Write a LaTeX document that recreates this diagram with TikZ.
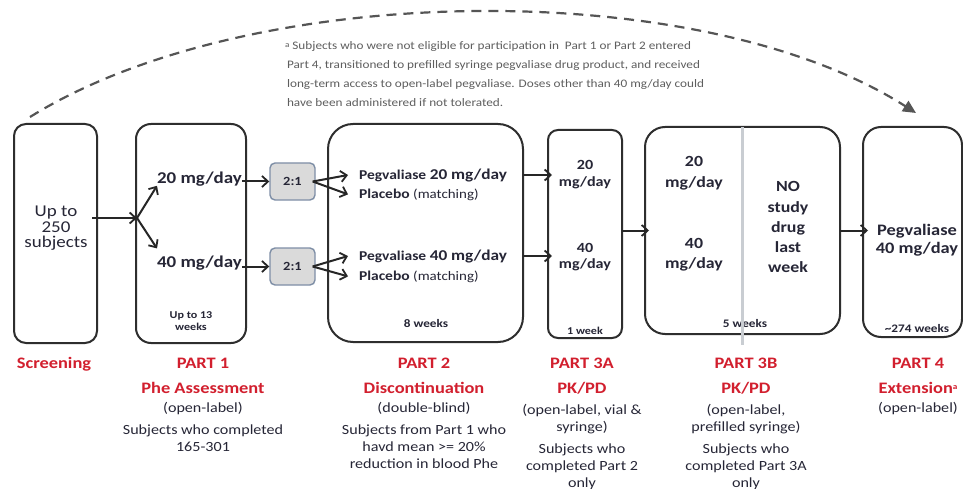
\documentclass[tikz,border=0pt]{standalone}
\usepackage{fontspec}
\setmainfont{Carlito}[FakeStretch=1.15]
\usetikzlibrary{arrows.meta}
\definecolor{ink}{HTML}{262636}
\definecolor{redc}{HTML}{D21F2E}
\definecolor{boxc}{HTML}{2E2E2E}
\definecolor{notec}{HTML}{5E5E5E}
\definecolor{ratiofill}{HTML}{DADADA}
\definecolor{ratioedge}{HTML}{7E8EA6}
\definecolor{divc}{HTML}{C9CDD2}
\definecolor{dashc}{HTML}{555555}
\newcommand\fsz[1]{\fontsize{#1}{#1}\selectfont}
\newcommand\supa{\raisebox{0.45ex}{\fontsize{8}{8}\selectfont a}}
\tikzset{
  lbl/.style={inner sep=0pt, outer sep=0pt, anchor=base, text=ink},
  lblw/.style={lbl, anchor=base west},
  dosew/.style={lblw, font=\fsz{16.5}\bfseries},
  dosea/.style={lbl, font=\fsz{14}\bfseries},
  doseb/.style={lbl, font=\fsz{15.5}\bfseries},
  dur/.style={lbl, font=\fsz{11.5}\bfseries},
  durs/.style={lbl, font=\fsz{10.5}\bfseries},
  armw/.style={lblw, font=\fsz{13.5}\bfseries},
  head/.style={lbl, text=redc, font=\fsz{16}\bfseries},
  desc/.style={lbl, font=\fsz{14}},
  note/.style={lblw, text=notec, font=\fsz{11.5}},
  stagebox/.style={draw=boxc, line width=2pt, inner sep=0pt, outer sep=0pt},
  ratiobox/.style={draw=ratioedge, fill=ratiofill, line width=1.4pt, rounded corners=5pt,
     minimum width=45pt, minimum height=37pt, inner sep=0pt, text=ink, font=\fsz{12.5}\bfseries},
  arr/.style={draw=black!85, line width=2pt, -{Straight Barb[length=6pt,width=11pt,line width=1.8pt]}},
  dashline/.style={draw=dashc, line width=2.2pt, dash pattern=on 10pt off 7pt,
     -{Triangle[length=13pt,width=12pt]}}
}
\begin{document}
\begin{tikzpicture}[x=1pt,y=-1pt]
\useasboundingbox[fill=white] (0,0) rectangle (963,489);

% footnote
\node[note] (n1) at (285,50) {\supa\ Subjects who were not eligible for participation in\ \ Part 1 or Part 2 entered};
\node[note] (n2) at (287,69) {Part 4, transitioned to prefilled syringe pegvaliase drug product, and received};
\node[note] (n3) at (287,88) {long-term access to open-label pegvaliase. Doses other than 40 mg/day could};
\node[note] (n4) at (287,107) {have been administered if not tolerated.};

% dashed arc
\coordinate (arcs) at (30,117);
\coordinate (arce) at (916,113);
\draw[dashline] (arcs) .. controls (250,-20) and (700,-25) .. (arce);

% stage boxes
\node[stagebox, rounded corners=12pt, minimum width=83pt, minimum height=219pt] (scr) at (55.5,233.5) {};
\node[stagebox, rounded corners=15pt, minimum width=110pt, minimum height=219pt] (p1) at (191,233.5) {};
\node[stagebox, rounded corners=25pt, minimum width=195pt, minimum height=218pt] (p2) at (425.5,233) {};
\node[stagebox, rounded corners=10pt, minimum width=74pt, minimum height=208pt] (p3a) at (585,234) {};
\node[stagebox, rounded corners=20pt, minimum width=195pt, minimum height=207pt] (p3b) at (742.5,230.5) {};
\node[stagebox, rounded corners=18pt, minimum width=99pt, minimum height=210pt] (p4) at (912.5,232) {};

% screening
\node[lbl, font=\fsz{16.5}] (s1) at (56,216) {Up to};
\node[lbl, font=\fsz{16.5}] (s2) at (56,232) {250};
\node[lbl, font=\fsz{16.5}] (s3) at (56,247) {subjects};

% part 1
\node[dosew] (d20) at (157,183) {20 mg/day};
\node[dosew] (d40) at (157,267) {40 mg/day};
\node[durs] (w1a) at (191,318) {Up to 13};
\node[durs] (w1b) at (191,330) {weeks};

% ratio boxes
\node[ratiobox] (r1) at (292.5,181.5) {2:1};
\node[ratiobox] (r2) at (292.5,266.5) {2:1};

% part 2
\node[armw] (peg20) at (359,179) {Pegvaliase {\fsz{15}20 mg/day}};
\node[armw] (plc1) at (359,198) {Placebo {\mdseries\fsz{13}(matching)}};
\node[armw] (peg40) at (359,260) {Pegvaliase {\fsz{15}40 mg/day}};
\node[armw] (plc2) at (359,280) {Placebo {\mdseries\fsz{13}(matching)}};
\node[dur] (w2) at (426,327) {8 weeks};

% part 3A
\node[dosea] (a20) at (585,170) {20};
\node[dosea] (a20m) at (585,186) {mg/day};
\node[dosea] (a40) at (585,252) {40};
\node[dosea] (a40m) at (585,268) {mg/day};
\node[durs] (w3a) at (585,334) {1 week};

% part 3B
\node[doseb] (b20) at (694,167) {20};
\node[doseb] (b20m) at (694,187) {mg/day};
\node[doseb] (b40) at (694,248) {40};
\node[doseb] (b40m) at (694,268) {mg/day};
\node[doseb] (nd1) at (788,192) {NO};
\node[doseb] (nd2) at (788,212) {study};
\node[doseb] (nd3) at (788,232) {drug};
\node[doseb] (nd4) at (788,252) {last};
\node[doseb] (nd5) at (788,272) {week};
\node[dur] (w3b) at (745,327) {5 weeks};
\draw[divc, line width=2.5pt] (p3b.north) -- ([yshift=-11pt]p3b.south);

% part 4
\node[lbl, font=\fsz{16}\bfseries] (e1) at (917,235) {Pegvaliase};
\node[lbl, font=\fsz{16}\bfseries] (e2) at (917,253) {40 mg/day};
\node[dur] (w4) at (917,332) {\char`\~274 weeks};

% connectors
\coordinate (br) at (137,218);
\draw[arr] ([xshift=-5pt]scr.east |- br) -- (br);
\draw[arr] (br) -- (d20.south west);
\draw[arr] (br) -- ([yshift=7pt]d40.north west);
\draw[arr] (d20.east |- r1.west) -- (r1.west);
\draw[arr] (d40.east |- r2.west) -- (r2.west);
\draw[arr] ([xshift=-3pt]r1.east) -- ([xshift=-11pt]peg20.west);
\draw[arr] ([xshift=-3pt]r1.east) -- ([xshift=-11pt]plc1.west);
\draw[arr] ([xshift=-3pt]r2.east) -- ([xshift=-11pt]peg40.west);
\draw[arr] ([xshift=-3pt]r2.east) -- ([xshift=-11pt]plc2.west);
\draw[arr] (p2.east |- peg20.west) -- ([xshift=4pt]p3a.west |- peg20.west);
\draw[arr] (p2.east |- peg40.west) -- ([xshift=4pt]p3a.west |- peg40.west);
\draw[arr] (p3a.east |- p3b.west) -- ([xshift=4pt]p3b.west);
\draw[arr] (p3b.east) -- ([xshift=5pt]p4.west |- p3b.east);

% bottom labels
\node[head] (h0) at (54,368) {Screening};
\node[head] (h1) at (203,368) {PART 1};
\node[head] (t1) at (203,393) {Phe Assessment};
\node[desc] (m1) at (203,412) {(open-label)};
\node[desc] (c1a) at (203,434) {Subjects who completed};
\node[desc] (c1b) at (203,451) {165-301};

\node[head] (h2) at (424,368) {PART 2};
\node[head] (t2) at (424,393) {Discontinuation};
\node[desc] (m2) at (424,412) {(double-blind)};
\node[desc] (c2a) at (424,434) {Subjects from Part 1 who};
\node[desc] (c2b) at (424,451) {havd mean >= 20\%};
\node[desc] (c2c) at (424,468) {reduction in blood Phe};

\node[head] (h3a) at (582,368) {PART 3A};
\node[head] (t3a) at (582,393) {PK/PD};
\node[desc] (m3a1) at (582,414) {(open-label, vial \&};
\node[desc] (m3a2) at (582,431) {syringe)};
\node[desc] (c3a1) at (582,453) {Subjects who};
\node[desc] (c3a2) at (582,470) {completed Part 2};
\node[desc] (c3a3) at (582,487) {only};

\node[head] (h3b) at (746,368) {PART 3B};
\node[head] (t3b) at (746,393) {PK/PD};
\node[desc] (m3b1) at (746,414) {(open-label,};
\node[desc] (m3b2) at (746,431) {prefilled syringe)};
\node[desc] (c3b1) at (746,453) {Subjects who};
\node[desc] (c3b2) at (746,470) {completed Part 3A};
\node[desc] (c3b3) at (746,487) {only};

\node[head] (h4) at (918,368) {PART 4};
\node[head] (t4) at (918,393) {Extension\supa};
\node[desc] (m4) at (918,412) {(open-label)};
\end{tikzpicture}
\end{document}
